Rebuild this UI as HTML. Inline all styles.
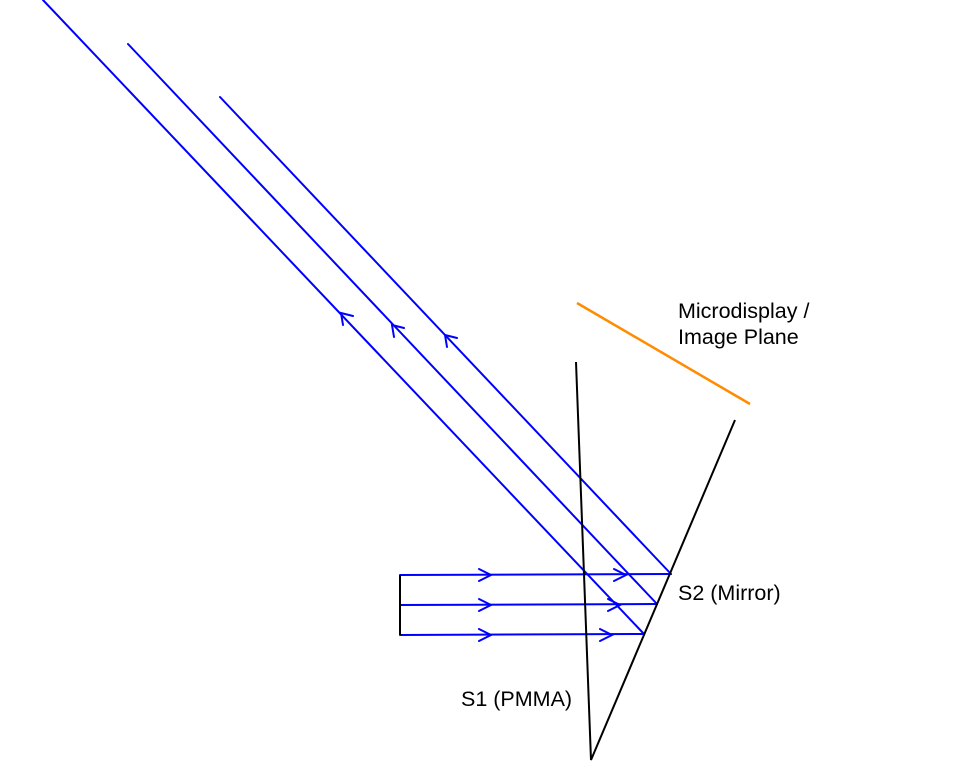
<!DOCTYPE html>
<html><head><meta charset="utf-8"><style>
html,body{margin:0;padding:0;background:#fff;}
svg{display:block;}
text{font-family:"Liberation Sans",Arial,sans-serif;font-size:21.5px;fill:#000;}
</style></head><body>
<svg width="975" height="773" viewBox="0 0 975 773">
<g stroke="#0000ff" stroke-width="2" fill="none" stroke-linecap="round">
<line x1="43" y1="0" x2="644" y2="634"/>
<line x1="128" y1="44" x2="657" y2="604"/>
<line x1="220" y1="97" x2="671" y2="574"/>
<line x1="400" y1="575" x2="671" y2="574"/>
<line x1="400" y1="605" x2="657" y2="604"/>
<line x1="400" y1="635" x2="644" y2="634"/>
<polyline points="479,569 491,575 479,581"/>
<polyline points="479,599 491,605 479,611"/>
<polyline points="479,629 491,635 479,641"/>
<polyline points="614,569 626,575 614,581"/>
<polyline points="608,599 620,605 608,611"/>
<polyline points="600,629 612,635 600,641"/>
<polyline points="343,325 341,313 353,316"/>
<polyline points="394,337 392,325 404,328"/>
<polyline points="447,347 445,335 457,338"/>
</g>
<g stroke="#000" stroke-width="2" fill="none">
<line x1="400" y1="575" x2="400" y2="635"/>
<polyline points="576,362 591,760 735,420"/>
</g>
<line x1="577" y1="303" x2="750" y2="404" stroke="#ff8c00" stroke-width="2.5"/>
<text x="678" y="318">Microdisplay /</text>
<text x="678" y="344">Image Plane</text>
<text x="678" y="600">S2 (Mirror)</text>
<text x="461" y="706">S1 (PMMA)</text>
</svg>
</body></html>
